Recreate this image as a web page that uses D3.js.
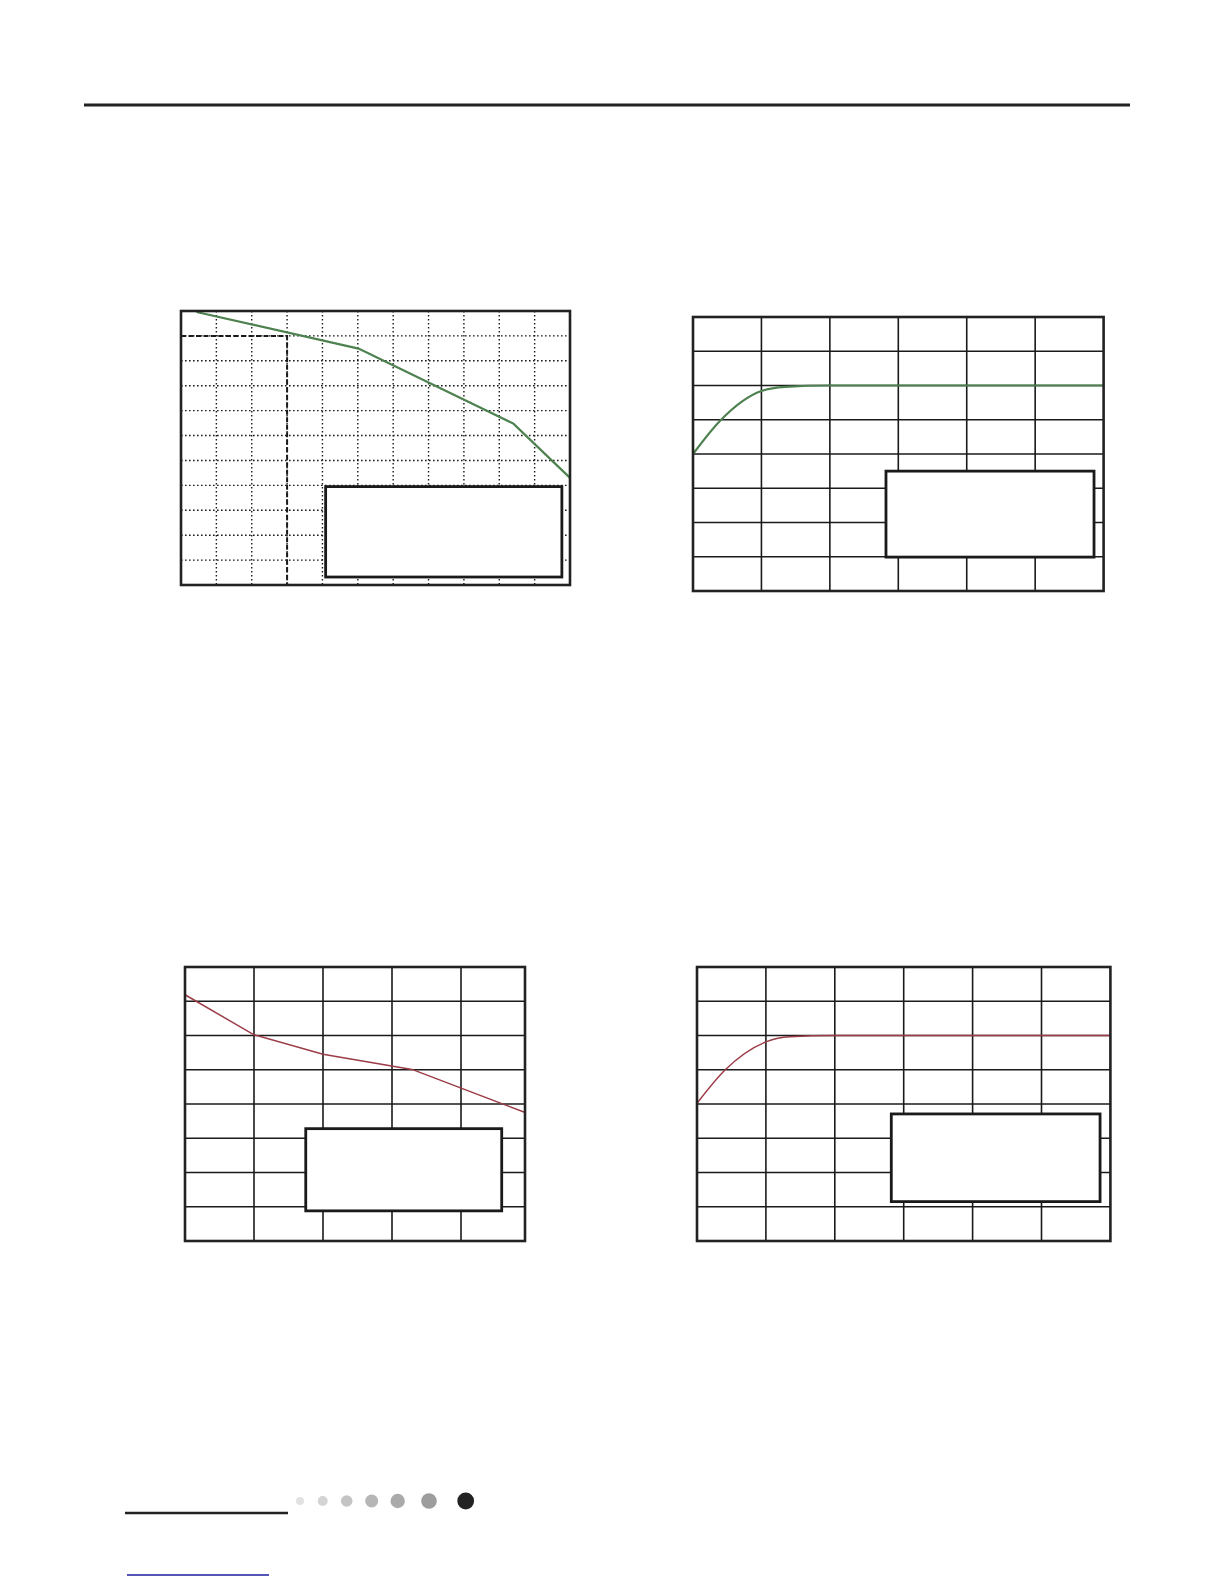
<!DOCTYPE html>
<html>
<head>
<meta charset="utf-8">
<script src="https://cdn.jsdelivr.net/npm/d3@7"></script>
<style>
  body { margin: 0; background: #fff; }
  svg { display: block; }
</style>
</head>
<body>
<div id="page"></div>
<script>
// chart data, read in grid units (no labels visible in the source)
// panel 1: dotted grid, 11 x 11, green falling line
const p1X = [0.44, 5.02, 9.4, 11];
const p1Y = [10.96, 9.49, 6.48, 4.3];
const p1Marker = {x: 3, y: 10};          // dashed reference box corner
const p1Legend = [4.09, 10.77, 3.95, 0.32];

// panel 2: solid grid 6 x 8, green saturating curve
const p2X = [0, 0.4, 1, 1.35, 2, 6];
const p2Y = [4.0, 4.98, 5.84, 5.96, 6.0, 6.0];
const p2Legend = [2.82, 5.86, 3.5, 0.99];

// panel 3: solid grid 4.93 x 8, red falling line
const p3X = [0, 1, 2, 3.29, 4.93];
const p3Y = [7.19, 6.02, 5.45, 5.01, 3.75];
const p3Legend = [1.75, 4.59, 3.28, 0.88];

// panel 4: solid grid 6 x 8, red saturating curve
const p4X = [0, 0.41, 1.01, 1.35, 2, 6];
const p4Y = [4.02, 5.0, 5.82, 5.96, 6.0, 6.0];
const p4Legend = [2.82, 5.85, 3.71, 1.15];

// footer dots: shade, radius, centre
const dotShades = ["#e2e2e2", "#d4d4d4", "#c4c4c4", "#b6b6b6", "#aaaaaa", "#9d9d9d", "#222222"];
const dotSizes = [4, 5, 5.8, 6.5, 7.2, 7.8, 8.4];
const dotCx = [300, 322.7, 346.7, 371.7, 397.7, 429, 465.7];

const W = 1224, H = 1584;
const svg = d3.select("#page").append("svg")
    .attr("width", W)
    .attr("height", H);

// top rule
svg.append("line")
    .attr("x1", 84).attr("x2", 1130)
    .attr("y1", 105).attr("y2", 105)
    .attr("stroke", "#222").attr("stroke-width", 3);

function drawPanel(cfg) {
    const g = svg.append("g")
        .attr("transform", `translate(${cfg.left},${cfg.top})`);

    const x = d3.scaleLinear().domain(cfg.xDomain).range([0, cfg.width]);
    const y = d3.scaleLinear().domain(cfg.yDomain).range([cfg.height, 0]);

    // grid
    g.append("g")
        .selectAll("line")
        .data(d3.range(cfg.xDomain[0] + 1, cfg.xDomain[1], 1))
        .join("line")
        .attr("x1", d => x(d)).attr("x2", d => x(d))
        .attr("y1", 0).attr("y2", cfg.height)
        .attr("stroke", "#1a1a1a")
        .attr("stroke-width", cfg.dotted ? 1.4 : 1.6)
        .attr("stroke-dasharray", cfg.dotted ? "1.6,2.4" : null);

    g.append("g")
        .selectAll("line")
        .data(d3.range(cfg.yDomain[0] + 1, cfg.yDomain[1], 1))
        .join("line")
        .attr("x1", 0).attr("x2", cfg.width)
        .attr("y1", d => y(d)).attr("y2", d => y(d))
        .attr("stroke", "#1a1a1a")
        .attr("stroke-width", cfg.dotted ? 1.4 : 1.6)
        .attr("stroke-dasharray", cfg.dotted ? "1.6,2.4" : null);

    // dashed reference box (panel 1 only)
    if (cfg.marker) {
        g.append("path")
            .attr("d", `M0,${y(cfg.marker.y)}H${x(cfg.marker.x)}V${cfg.height}`)
            .attr("fill", "none")
            .attr("stroke", "#1a1a1a")
            .attr("stroke-width", 2)
            .attr("stroke-dasharray", "5,2.5");
    }

    // curve
    const pts = cfg.xs.map((v, i) => [v, cfg.ys[i]]);
    const line = d3.line()
        .x(d => x(d[0]))
        .y(d => y(d[1]))
        .curve(cfg.smooth ? d3.curveMonotoneX : d3.curveLinear);

    g.append("path")
        .datum(pts)
        .attr("d", line)
        .attr("fill", "none")
        .attr("stroke", cfg.color)
        .attr("stroke-width", cfg.lineWidth);

    // legend box (text not present in source)
    const lb = cfg.legend;
    g.append("rect")
        .attr("x", x(lb[0]))
        .attr("y", y(lb[2]))
        .attr("width", x(lb[1]) - x(lb[0]))
        .attr("height", y(lb[3]) - y(lb[2]))
        .attr("fill", "#fff")
        .attr("stroke", "#1a1a1a")
        .attr("stroke-width", 2.8);

    // frame
    g.append("rect")
        .attr("width", cfg.width)
        .attr("height", cfg.height)
        .attr("fill", "none")
        .attr("stroke", "#222")
        .attr("stroke-width", 2.6);
}

drawPanel({left: 181, top: 311, width: 389, height: 274,
    xDomain: [0, 11], yDomain: [0, 11], dotted: true,
    xs: p1X, ys: p1Y, color: "#4e8150", lineWidth: 2.2, smooth: false,
    marker: p1Marker, legend: p1Legend});

drawPanel({left: 693, top: 317, width: 410.6, height: 274,
    xDomain: [0, 6], yDomain: [0, 8], dotted: false,
    xs: p2X, ys: p2Y, color: "#4e8150", lineWidth: 2.2, smooth: true,
    legend: p2Legend});

drawPanel({left: 185, top: 967, width: 340, height: 274,
    xDomain: [0, 340 / 69], yDomain: [0, 8], dotted: false,
    xs: p3X, ys: p3Y, color: "#9b3c47", lineWidth: 1.5, smooth: false,
    legend: p3Legend});

drawPanel({left: 697, top: 967, width: 413.4, height: 274,
    xDomain: [0, 6], yDomain: [0, 8], dotted: false,
    xs: p4X, ys: p4Y, color: "#9b3c47", lineWidth: 1.5, smooth: true,
    legend: p4Legend});

// footer rule, dots and link line
svg.append("line")
    .attr("x1", 125).attr("x2", 288)
    .attr("y1", 1513).attr("y2", 1513)
    .attr("stroke", "#222").attr("stroke-width", 2.6);

svg.selectAll("circle")
    .data(dotShades)
    .join("circle")
    .attr("cx", (d, i) => dotCx[i])
    .attr("cy", 1501)
    .attr("r", (d, i) => dotSizes[i])
    .attr("fill", d => d);

svg.append("line")
    .attr("x1", 127).attr("x2", 269)
    .attr("y1", 1575).attr("y2", 1575)
    .attr("stroke", "#1c1ca0").attr("stroke-width", 1.5);
</script>
</body>
</html>
